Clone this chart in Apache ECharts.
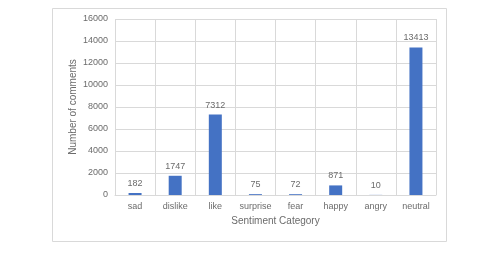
<!DOCTYPE html>
<html>
<head>
<meta charset="utf-8">
<script src="https://cdn.jsdelivr.net/npm/echarts@6/dist/echarts.min.js"></script>
<style>
html,body{margin:0;padding:0;background:#fff;}
#c{width:503px;height:258px;}
</style>
</head>
<body>
<div id="c"></div>
<script>
const categories = ['sad','dislike','like','surprise','fear','happy','angry','neutral'];
const values = [182, 1747, 7312, 75, 72, 871, 10, 13413];
const yTicks = {min: 0, max: 16000, interval: 2000};

const chart = echarts.init(document.getElementById('c'), null, {renderer: 'canvas'});
const font = 'Liberation Sans, Arial, sans-serif';
const txt = '#6b6b6b';
chart.setOption({
  animation: false,
  backgroundColor: '#fff',
  graphic: [{
    type: 'rect',
    shape: {x: 52.5, y: 8.5, width: 394, height: 233},
    style: {fill: 'none', stroke: '#d9d9d9', lineWidth: 1},
    silent: true
  }],
  grid: {left: 115, right: 67, top: 19, bottom: 63},
  xAxis: {
    type: 'category',
    data: categories,
    name: 'Sentiment Category',
    nameLocation: 'middle',
    nameGap: 21,
    nameMoveOverlap: false,
    nameTextStyle: {color: txt, fontSize: 10, fontFamily: font},
    axisLine: {show: true, lineStyle: {color: '#d9d9d9'}},
    axisTick: {show: false},
    axisLabel: {interval: 0, color: txt, fontSize: 9, fontFamily: font, margin: 7},
    splitLine: {show: true, interval: 0, lineStyle: {color: '#d9d9d9', width: 1}}
  },
  yAxis: {
    type: 'value',
    min: yTicks.min, max: yTicks.max, interval: yTicks.interval,
    name: 'Number of comments',
    nameLocation: 'middle',
    nameGap: 37,
    nameMoveOverlap: false,
    nameTextStyle: {color: txt, fontSize: 10, fontFamily: font},
    axisLine: {show: false},
    axisTick: {show: false},
    axisLabel: {color: txt, fontSize: 9, fontFamily: font, margin: 7, formatter: v => String(v)},
    splitLine: {show: true, lineStyle: {color: '#d9d9d9', width: 1}}
  },
  series: [{
    type: 'bar',
    data: values,
    barWidth: 13,
    itemStyle: {color: '#4472C4'},
    label: {show: true, position: 'top', distance: 5, color: txt, fontSize: 9, fontFamily: font}
  }]
});
</script>
</body>
</html>
